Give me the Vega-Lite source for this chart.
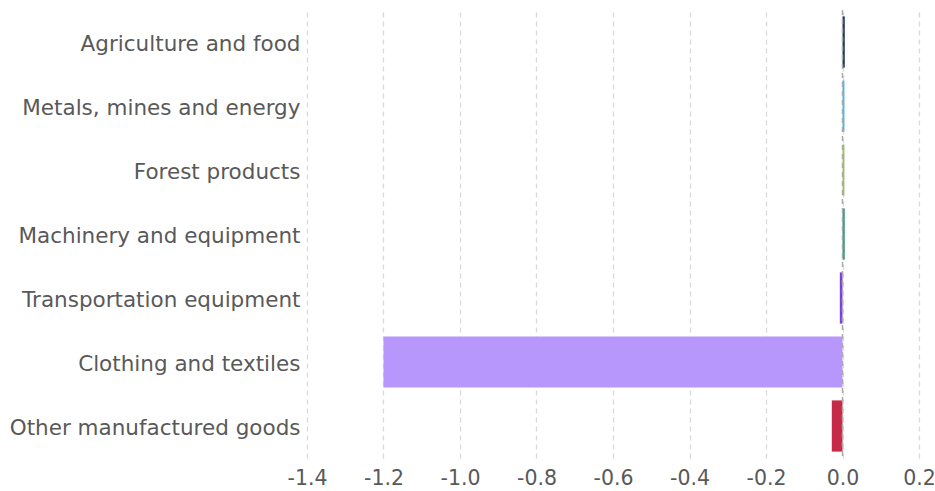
{
  "$schema": "https://vega.github.io/schema/vega-lite/v6.json",
  "width": 612,
  "height": 448,
  "autosize": {"type": "none"},
  "padding": {"left": 307, "top": 10, "right": 16, "bottom": 33},
  "background": "white",
  "config": {
    "view": {"stroke": null},
    "font": "DejaVu Sans"
  },
  "data": {
    "values": [
      {"sector": "Agriculture and food", "value": 0.006},
      {"sector": "Metals, mines and energy", "value": 0.005},
      {"sector": "Forest products", "value": 0.005},
      {"sector": "Machinery and equipment", "value": 0.006},
      {"sector": "Transportation equipment", "value": -0.007},
      {"sector": "Clothing and textiles", "value": -1.2},
      {"sector": "Other manufactured goods", "value": -0.028}
    ]
  },
  "layer": [
    {
      "mark": {"type": "bar"},
      "encoding": {
        "y": {
          "field": "sector",
          "type": "nominal",
          "sort": null,
          "scale": {"paddingInner": 0.2, "paddingOuter": 0.1},
          "axis": {
            "title": null,
            "ticks": false,
            "domain": false,
            "labelFontSize": 21.5,
            "labelColor": "#595959",
            "labelPadding": 7,
            "labelOffset": 3,
            "labelFont": "DejaVu Sans",
            "labelLimit": 400
          }
        },
        "x": {
          "field": "value",
          "type": "quantitative",
          "scale": {"domain": [-1.4, 0.2], "nice": false, "zero": false},
          "axis": {
            "title": null,
            "values": [-1.4, -1.2, -1.0, -0.8, -0.6, -0.4, -0.2, 0.0, 0.2],
            "labelExpr": "datum.value < -0.0001 ? '-' + format(abs(datum.value), '.1f') : format(abs(datum.value), '.1f')",
            "labelFlush": false,
            "labelOverlap": false,
            "ticks": false,
            "domain": false,
            "grid": true,
            "gridColor": "#d9d9d9",
            "gridDash": [5, 4],
            "gridWidth": 1.3,
            "labelFontSize": 20.5,
            "labelColor": "#595959",
            "labelPadding": 10,
            "labelFont": "DejaVu Sans"
          }
        },
        "color": {
          "field": "sector",
          "type": "nominal",
          "sort": null,
          "legend": null,
          "scale": {
            "domain": ["Agriculture and food", "Metals, mines and energy", "Forest products", "Machinery and equipment", "Transportation equipment", "Clothing and textiles", "Other manufactured goods"],
            "range": ["#233a5e", "#4bb4f0", "#9bc15a", "#3d9a78", "#7d3fd8", "#b797fc", "#c52b47"]
          }
        }
      }
    },
    {
      "data": {"values": [{"zero": 0}]},
      "mark": {"type": "rule", "stroke": "#aaaaaa", "strokeWidth": 1.5, "strokeDash": [5, 4]},
      "encoding": {
        "x": {"field": "zero", "type": "quantitative"}
      }
    }
  ]
}
